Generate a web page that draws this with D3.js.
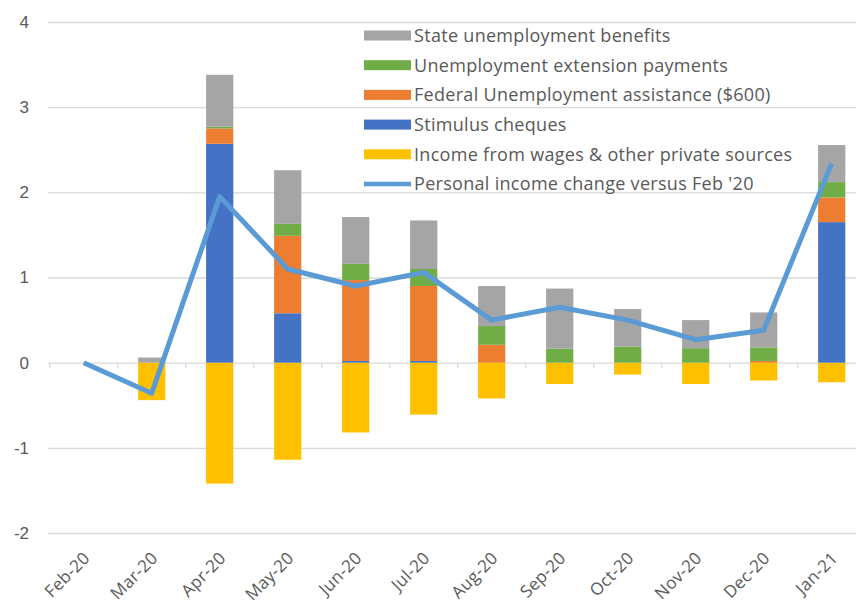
<!DOCTYPE html>
<html lang="en">
<head>
  <meta charset="UTF-8">
  <title>Personal income change</title>
  <script src="https://d3js.org/d3.v7.min.js"></script>
  <style>
    body { margin: 0; background: #fff; }
    svg { display: block; font-family: "Open Sans", "Noto Sans", sans-serif; }
    .grid line { stroke: #d9d9d9; stroke-width: 1.3; }
    .grid .domain { display: none; }
    .axis text { fill: #595959; font-size: 17px; }
    .xlab text { fill: #595959; font-size: 17px; letter-spacing: 0.3px; }
    .legend text { fill: #595959; font-size: 18px; letter-spacing: 0.3px; }
    .line { fill: none; stroke: #5b9bd5; stroke-width: 5; stroke-linejoin: round; }
  </style>
</head>
<body>
  <script>
    // data
    const months = ['Feb-20', 'Mar-20', 'Apr-20', 'May-20', 'Jun-20', 'Jul-20',
                    'Aug-20', 'Sep-20', 'Oct-20', 'Nov-20', 'Dec-20', 'Jan-21'];
    const wages     = [0, -0.44, -1.42, -1.14, -0.82, -0.61, -0.42, -0.25, -0.14, -0.25, -0.21, -0.23];
    const stimulus  = [0, 0, 2.57, 0.58, 0.02, 0.02, 0, 0, 0, 0, 0, 1.65];
    const federal   = [0, 0, 0.18, 0.91, 0.95, 0.88, 0.21, 0, 0, 0, 0.02, 0.29];
    const extension = [0, 0, 0.02, 0.14, 0.19, 0.20, 0.22, 0.165, 0.19, 0.17, 0.16, 0.18];
    const stateBen  = [0, 0.06, 0.61, 0.63, 0.55, 0.57, 0.47, 0.705, 0.44, 0.33, 0.41, 0.435];
    const income    = [0, -0.36, 1.95, 1.10, 0.90, 1.06, 0.50, 0.65, 0.50, 0.27, 0.38, 2.34];
    const yTicks = [-2, -1, 0, 1, 2, 3, 4];

    const keys = ['wages', 'stimulus', 'federal', 'extension', 'state'];
    const colors = {wages: '#ffc000', stimulus: '#4472c4', federal: '#ed7d31',
                    extension: '#70ad47', state: '#a5a5a5'};
    const legendItems = [
      {key: 'state', label: 'State unemployment benefits'},
      {key: 'extension', label: 'Unemployment extension payments'},
      {key: 'federal', label: 'Federal Unemployment assistance ($600)'},
      {key: 'stimulus', label: 'Stimulus cheques'},
      {key: 'wages', label: 'Income from wages & other private sources'},
      {key: 'line', label: "Personal income change versus Feb '20"}
    ];

    const rows = months.map((m, i) => ({
      month: m, wages: wages[i], stimulus: stimulus[i], federal: federal[i],
      extension: extension[i], state: stateBen[i], income: income[i]
    }));

    const W = 856, H = 606;
    const x = d3.scaleBand().domain(months).range([49.7, 865.7])
      .paddingInner(0.6).paddingOuter(0.3);
    const y = d3.scaleLinear().domain([-2, 4]).range([533, 22]);
    const cx = d => x(d) + x.bandwidth() / 2;

    const svg = d3.select('body').append('svg')
      .attr('width', W).attr('height', H);

    // gridlines + y labels (plain hyphen for negatives, like the original)
    svg.append('g').attr('class', 'grid axis')
      .attr('transform', 'translate(48,0)')
      .call(d3.axisLeft(y).tickValues(yTicks).tickSize(-(W - 48)).tickFormat(d => String(d)))
      .call(g => g.selectAll('text').attr('x', -19).style('text-anchor', 'end'));

    // category ticks on the zero line
    const step = x.step();
    svg.append('g').selectAll('line')
      .data(months)
      .join('line')
      .attr('x1', d => cx(d) - step / 2).attr('x2', d => cx(d) - step / 2)
      .attr('y1', y(0)).attr('y2', y(0) + 5)
      .attr('stroke', '#d9d9d9').attr('stroke-width', 1.3);

    // stacked bars
    const series = d3.stack().keys(keys).offset(d3.stackOffsetDiverging)(rows);
    svg.append('g').selectAll('g')
      .data(series)
      .join('g')
      .attr('fill', s => colors[s.key])
      .selectAll('rect')
      .data(s => s)
      .join('rect')
      .attr('x', d => x(d.data.month))
      .attr('width', x.bandwidth())
      .attr('y', d => y(Math.max(d[0], d[1])))
      .attr('height', d => Math.abs(y(d[0]) - y(d[1])));

    // income line
    const line = d3.line().x(d => cx(d.month)).y(d => y(d.income));
    svg.append('path').datum(rows).attr('class', 'line').attr('d', line);

    // x labels
    svg.append('g').attr('class', 'xlab')
      .selectAll('text')
      .data(months)
      .join('text')
      .attr('transform', d => `translate(${cx(d) + 3},555) rotate(-45)`)
      .attr('dy', '0.35em')
      .style('text-anchor', 'end')
      .text(d => d);

    // legend
    const lg = svg.append('g').attr('class', 'legend')
      .selectAll('g')
      .data(legendItems)
      .join('g')
      .attr('transform', (d, i) => `translate(364,${35.5 + i * 29.7})`);
    lg.filter(d => d.key !== 'line').append('rect')
      .attr('x', 0).attr('y', -5).attr('width', 47).attr('height', 10)
      .attr('fill', d => colors[d.key]);
    lg.filter(d => d.key === 'line').append('line')
      .attr('x1', 0).attr('x2', 47).attr('y1', 0).attr('y2', 0)
      .attr('stroke', '#5b9bd5').attr('stroke-width', 4.5);
    lg.append('text')
      .attr('x', 50).attr('dy', '0.35em')
      .text(d => d.label);
  </script>
</body>
</html>
